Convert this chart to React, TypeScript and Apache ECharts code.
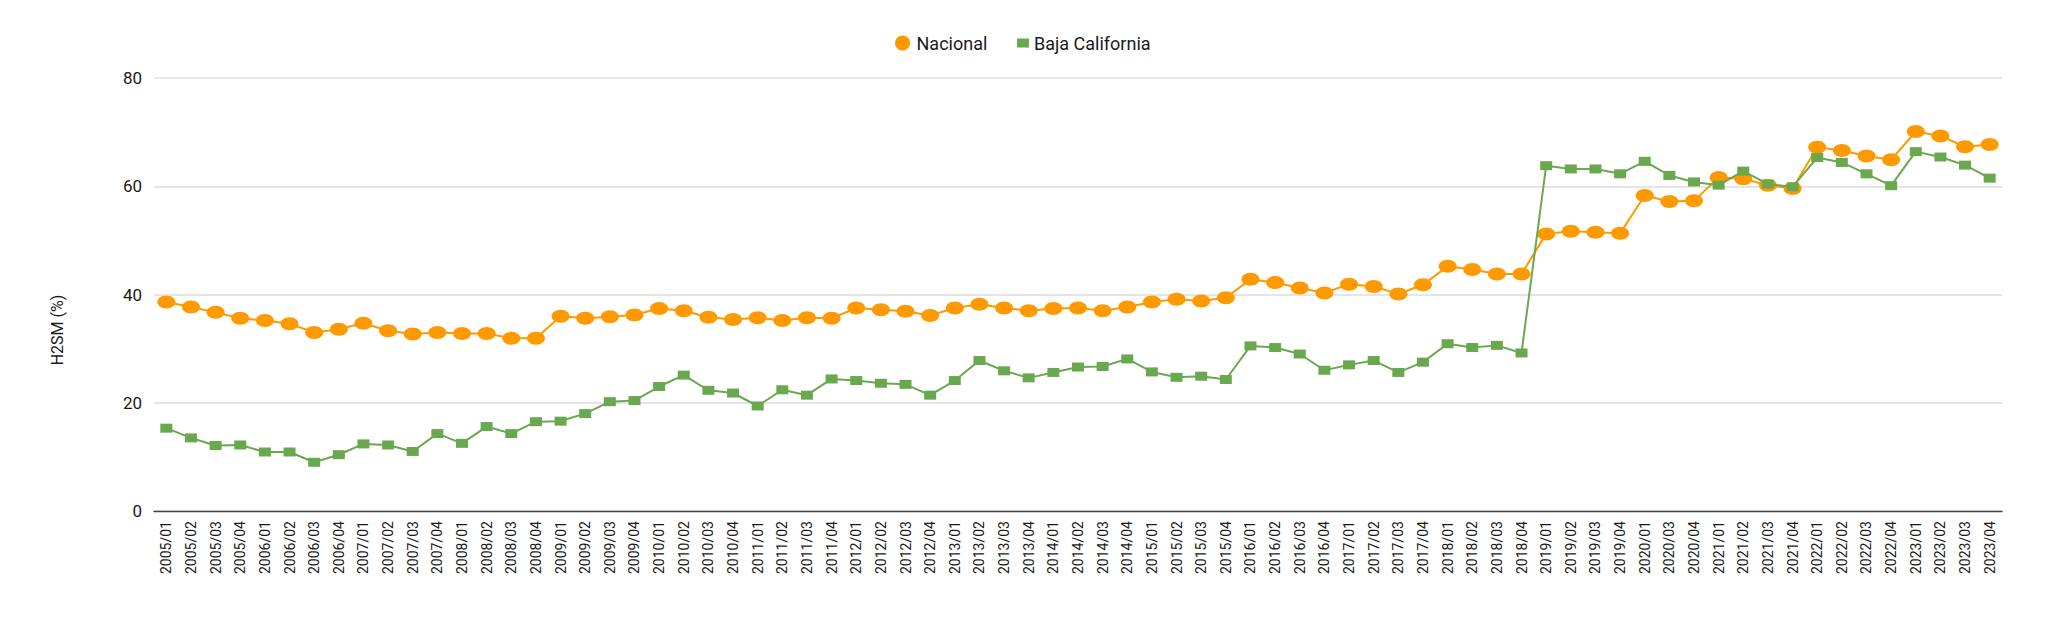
import React, { useEffect, useRef } from "react";
import * as echarts from "echarts";

const categories: string[] = [
  "2005/01", "2005/02", "2005/03", "2005/04",
  "2006/01", "2006/02", "2006/03", "2006/04",
  "2007/01", "2007/02", "2007/03", "2007/04",
  "2008/01", "2008/02", "2008/03", "2008/04",
  "2009/01", "2009/02", "2009/03", "2009/04",
  "2010/01", "2010/02", "2010/03", "2010/04",
  "2011/01", "2011/02", "2011/03", "2011/04",
  "2012/01", "2012/02", "2012/03", "2012/04",
  "2013/01", "2013/02", "2013/03", "2013/04",
  "2014/01", "2014/02", "2014/03", "2014/04",
  "2015/01", "2015/02", "2015/03", "2015/04",
  "2016/01", "2016/02", "2016/03", "2016/04",
  "2017/01", "2017/02", "2017/03", "2017/04",
  "2018/01", "2018/02", "2018/03", "2018/04",
  "2019/01", "2019/02", "2019/03", "2019/04",
  "2020/01", "2020/03", "2020/04",
  "2021/01", "2021/02", "2021/03", "2021/04",
  "2022/01", "2022/02", "2022/03", "2022/04",
  "2023/01", "2023/02", "2023/03", "2023/04",
];

const nacional: number[] = [
  38.6, 37.7, 36.7, 35.6,
  35.2, 34.6, 33.0, 33.6,
  34.7, 33.3, 32.7, 33.0,
  32.8, 32.8, 31.9, 31.9,
  36.0, 35.6, 35.9, 36.2,
  37.4, 37.0, 35.8, 35.4,
  35.7, 35.2, 35.7, 35.6,
  37.5, 37.2, 36.9, 36.1,
  37.5, 38.2, 37.5, 37.0,
  37.4, 37.5, 37.0, 37.7,
  38.6, 39.1, 38.8, 39.4,
  42.8, 42.2, 41.2, 40.3,
  41.9, 41.5, 40.1, 41.8,
  45.2, 44.6, 43.8, 43.8,
  51.2, 51.7, 51.5, 51.3,
  58.3, 57.2, 57.3,
  61.6, 61.4, 60.2, 59.6,
  67.2, 66.6, 65.6, 64.9,
  70.1, 69.3, 67.3, 67.7,
];

const bajaCalifornia: number[] = [
  15.3, 13.5, 12.1, 12.2,
  10.9, 10.9, 9.0, 10.4,
  12.4, 12.2, 11.0, 14.3,
  12.5, 15.6, 14.3, 16.5,
  16.6, 18.0, 20.2, 20.4,
  23.0, 25.1, 22.3, 21.8,
  19.4, 22.4, 21.4, 24.4,
  24.1, 23.6, 23.4, 21.4,
  24.1, 27.8, 25.9, 24.6,
  25.6, 26.6, 26.7, 28.1,
  25.7, 24.7, 24.9, 24.3,
  30.5, 30.2, 29.0, 26.0,
  27.0, 27.8, 25.6, 27.5,
  30.9, 30.2, 30.6, 29.2,
  63.8, 63.2, 63.2, 62.3,
  64.6, 62.0, 60.8,
  60.2, 62.8, 60.4, 59.9,
  65.3, 64.4, 62.3, 60.1,
  66.4, 65.4, 63.9, 61.5,
];

const yTicks = { min: 0, max: 80, interval: 20 };
const seriesNames = ["Nacional", "Baja California"];
const yAxisTitle = "H2SM (%)";

const ORANGE = "#ff9900";
const GREEN = "#6aa84f";
const TEXT = "#1a1a1a";
const FONT = "Roboto, Arial, sans-serif";
const ELLIPSE =
  "path://M0,10C0,4.48,4.48,0,10,0C15.52,0,20,4.48,20,10C20,15.52,15.52,20,10,20C4.48,20,0,15.52,0,10Z";

export default function App() {
  const ref = useRef<HTMLDivElement>(null);

  useEffect(() => {
    document.body.style.margin = "0";
    if (!ref.current) return;
    const chart = echarts.init(ref.current, undefined, { renderer: "svg" });
    chart.setOption({
      animation: false,
      backgroundColor: "#ffffff",
      textStyle: { fontFamily: FONT },
      legend: [
        {
          data: [{ name: seriesNames[0], icon: ELLIPSE }],
          left: 890,
          top: 29,
          itemWidth: 18,
          itemHeight: 15,
          textStyle: { fontSize: 18, color: TEXT, fontFamily: FONT },
        },
        {
          data: [{ name: seriesNames[1], icon: "rect" }],
          left: 1012,
          top: 29,
          itemWidth: 12,
          itemHeight: 9,
          textStyle: { fontSize: 18, color: TEXT, fontFamily: FONT },
        },
      ],
      grid: { left: 154, right: 46, top: 78, bottom: 113, containLabel: false },
      xAxis: {
        type: "category",
        data: categories,
        boundaryGap: true,
        axisLine: { show: true, lineStyle: { color: "#444", width: 1.3 } },
        axisTick: { show: false },
        axisLabel: {
          interval: 0,
          rotate: 90,
          margin: 10,
          fontSize: 14,
          color: TEXT,
          fontFamily: FONT,
        },
        splitLine: { show: false },
      },
      yAxis: {
        type: "value",
        min: yTicks.min,
        max: yTicks.max,
        interval: yTicks.interval,
        axisLine: { show: false },
        axisTick: { show: false },
        axisLabel: { margin: 12, fontSize: 17, color: TEXT, fontFamily: FONT },
        splitLine: { show: true, lineStyle: { color: "#dcdcdc", width: 1.5 } },
      },
      graphic: [
        {
          type: "text",
          x: 57,
          y: 330,
          rotation: Math.PI / 2,
          style: {
            text: yAxisTitle,
            fontSize: 16,
            fontFamily: FONT,
            fill: TEXT,
            textAlign: "center",
            textVerticalAlign: "middle",
          },
        },
      ],
      series: [
        {
          name: seriesNames[0],
          type: "line",
          data: nacional,
          symbol: ELLIPSE,
          symbolSize: [18, 13],
          showAllSymbol: true,
          lineStyle: { color: ORANGE, width: 2 },
          itemStyle: { color: ORANGE },
          z: 2,
        },
        {
          name: seriesNames[1],
          type: "line",
          data: bajaCalifornia,
          symbol: "rect",
          symbolSize: [12, 9],
          showAllSymbol: true,
          lineStyle: { color: GREEN, width: 2 },
          itemStyle: { color: GREEN },
          z: 3,
        },
      ],
    });
    return () => chart.dispose();
  }, []);

  return <div ref={ref} style={{ width: 2048, height: 624 }} />;
}
